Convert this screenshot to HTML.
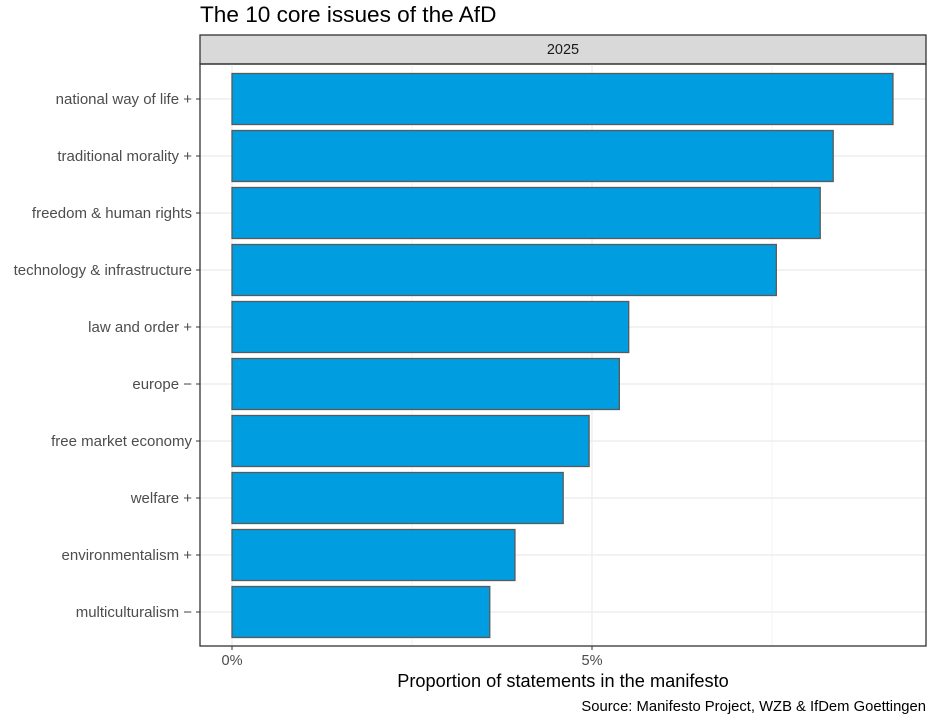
<!DOCTYPE html>
<html><head><meta charset="utf-8"><style>
body{margin:0;background:#fff;font-family:"Liberation Sans",Arial,sans-serif;}
svg text{font-family:"Liberation Sans",Arial,sans-serif;}
</style></head><body>
<svg id="chart" width="934" height="721" xmlns="http://www.w3.org/2000/svg">
<text x="200" y="22" font-size="22.6" fill="#000">The 10 core issues of the AfD</text>
<rect x="200" y="35" width="726" height="29" fill="#d9d9d9" stroke="#333" stroke-width="1.3"/>
<text x="563" y="54" font-size="14.5" text-anchor="middle" fill="#1a1a1a">2025</text>
<g id="grid"></g>
<g id="bars"></g>
<rect x="200" y="64" width="726" height="582" fill="none" stroke="#333" stroke-width="1.3"/>
<g id="yaxis"></g>
<g id="xaxis"></g>
<text x="563" y="687" font-size="18.2" text-anchor="middle" fill="#000">Proportion of statements in the manifesto</text>
<text x="926" y="711" font-size="14.8" text-anchor="end" fill="#000">Source: Manifesto Project, WZB &amp; IfDem Goettingen</text>
</svg>
<script>
const categories = ["national way of life +","traditional morality +","freedom & human rights","technology & infrastructure","law and order +","europe \u2212","free market economy","welfare +","environmentalism +","multiculturalism \u2212"];
const values = [9.18,8.35,8.17,7.56,5.51,5.38,4.96,4.60,3.93,3.58];
const xTicks = [0,5];
const xTickLabels = ["0%","5%"];
const xMinor = [2.5,7.5];

const NS="http://www.w3.org/2000/svg";
const x = v => 232 + v*72;
const y = i => 99 + i*57;
const bh = 51;
function mk(tag, attrs, parent){const e=document.createElementNS(NS,tag);for(const k in attrs)e.setAttribute(k,attrs[k]);parent.appendChild(e);return e;}
const grid=document.getElementById('grid'), bars=document.getElementById('bars'), ya=document.getElementById('yaxis'), xa=document.getElementById('xaxis');
xMinor.forEach(v=>{const l=mk('line',{x1:x(v),x2:x(v),y1:64,y2:646,stroke:'#f0f0f0','stroke-width':0.8},grid);

});
xTicks.forEach((v,i)=>{const l=mk('line',{x1:x(v),x2:x(v),y1:64,y2:646,stroke:'#ebebeb','stroke-width':1.2},grid);


const t=mk('line',{x1:x(v),x2:x(v),y1:646,y2:650,stroke:'#333'},xa);


const tx=mk('text',{x:x(v),y:665,'font-size':14.6,'text-anchor':'middle',fill:'#4d4d4d'},xa);tx.textContent=xTickLabels[i];

});
categories.forEach((c,i)=>{const g=mk('line',{x1:200,x2:926,y1:y(i),y2:y(i),stroke:'#ebebeb','stroke-width':1.2},grid);


const r=mk('rect',{x:x(0),y:y(i)-bh/2,width:x(values[i])-x(0),height:bh,fill:'#009ee0',stroke:'#595959','stroke-width':1.3},bars);


const t=mk('line',{x1:196,x2:200,y1:y(i),y2:y(i),stroke:'#333'},ya);


const tx=mk('text',{x:192,y:y(i)+5,'font-size':15,'text-anchor':'end',fill:'#4d4d4d'},ya);tx.textContent=c;

});
</script>
</body></html>
